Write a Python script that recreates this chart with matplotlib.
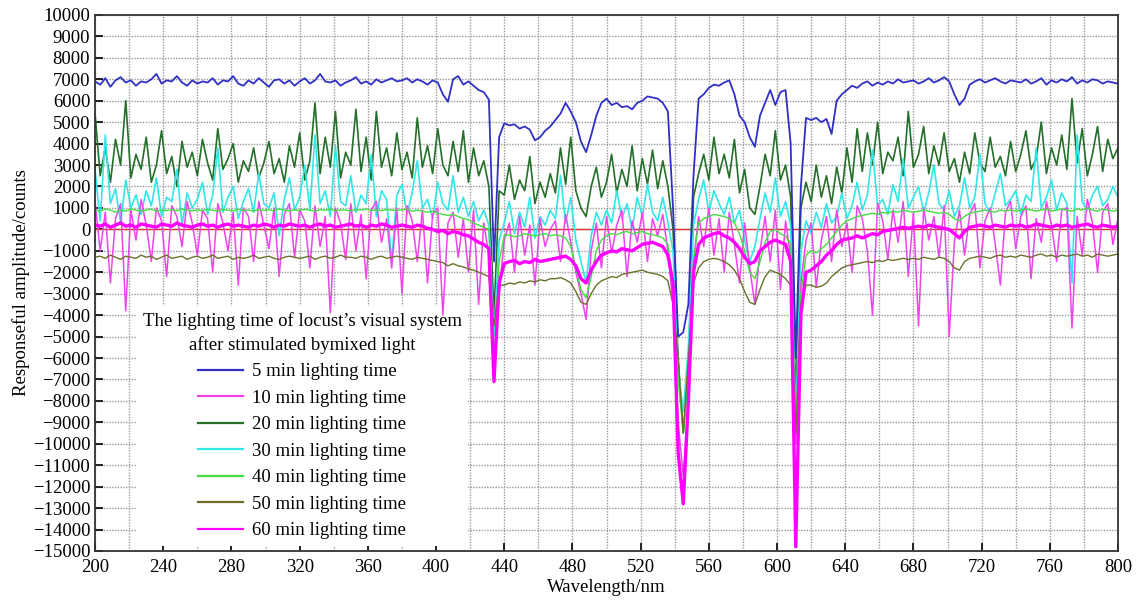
import numpy as np
import matplotlib
matplotlib.use("Agg")
import matplotlib.pyplot as plt
from matplotlib.ticker import MultipleLocator

plt.rcParams['font.family'] = ['Liberation Serif', 'DejaVu Serif']

# Wavelength sampling (nm)
wavelength = np.arange(200, 801, 3)

labels = ["5 min lighting time", "10 min lighting time", "20 min lighting time",
          "30 min lighting time", "40 min lighting time", "50 min lighting time",
          "60 min lighting time"]

min5 = [
    6900, 6750, 7050, 6650, 6950, 7100, 6850, 6950, 6700, 6900,
    6850, 7000, 7250, 6800, 6950, 6900, 7150, 6850, 6700, 6950,
    6800, 6900, 6850, 7050, 6750, 6950, 6900, 7150, 6800, 6700,
    6950, 6800, 7050, 6850, 6650, 6950, 7000, 6800, 6950, 6700,
    6900, 7050, 6800, 6950, 7250, 6900, 6850, 6950, 6700, 6850,
    6950, 7100, 6800, 6900, 6750, 7000, 6850, 6950, 7050, 6900,
    6950, 7050, 6850, 7000, 6900, 6750, 6950, 6850, 6300, 5950,
    7000, 7150, 6750, 6900, 6700, 6500, 6400, 6050, -1500, 4300,
    4950, 4850, 4900, 4700, 4800, 4650, 4150, 4300, 4600, 4800,
    5100, 5400, 5900, 5500, 5000, 4100, 3600, 4400, 5300, 5900,
    6100, 5800, 5900, 5700, 5750, 5600, 5900, 6000, 6200, 6150,
    6100, 5900, 5500, 1000, -5000, -4800, -3500, 2500, 6100, 6300,
    6600, 6750, 6700, 6850, 6950, 6300, 5300, 5000, 4300, 3850,
    5300, 5900, 6500, 5800, 6400, 6500, 4000, -6000, 2000, 5200,
    5100, 5200, 5000, 5150, 4450, 6000, 6300, 6500, 6700, 6600,
    6800, 6900, 6700, 6850, 6750, 6900, 6800, 7000, 6850, 6900,
    6950, 6800, 6900, 7050, 6850, 6950, 7100, 6900, 6300, 5800,
    6100, 6750, 6900, 7000, 6850, 6950, 7050, 6900, 6800, 6950,
    6900, 6850, 7000, 6800, 6900, 7050, 6750, 6950, 6850, 7000,
    6900, 7100, 6800, 6950, 6850, 7000, 6950, 6800, 6900, 6850,
    6800,
]

min10 = [
    1300, -1000, 800, -2500, 500, 1200, -3800, 900, -500, 1400,
    200, -1500, 1000, 400, -2200, 1100, 600, -800, 1300, 300,
    -1200, 900, 500, -2000, 1200, 300, -1000, 800, -2600, 1000,
    600, -1500, 1300, 200, -900, 1000, -2200, 700, 1200, -1300,
    900, 400, -1800, 1100, -800, 600, -3900, 1000, 300, -1400,
    1200, -1000, 700, -2300, 900, 1300, -600, 500, -1800, 1000,
    -3000, 1100, 400, -1500, 900, -2500, 700, 1000, -4000, 300,
    800, -1300, 500, -2000, 900, -3500, 300, -1200, -7000, -3000,
    -500, 300, -2000, 600, -1200, 200, -2600, 500, -800, 0,
    400, -1500, 700, -600, -2000, -3000, -4200, -1000, 300, -1800,
    600, -1100, 200, 900, -2200, 400, -600, 800, -1500, 500,
    -300, 700, -1000, -3500, -9000, -11500, -8000, -1500, 600, -800,
    1000, -1200, 500, -2000, 800, -700, -2500, 300, -1800, -3500,
    -1000, 600, -1500, 900, -2800, 400, -1300, -10000, -2500, -500,
    300, -2700, -500, 600, -1500, 900, -800, 300, -2000, 1100,
    500, -1000, -4000, 1200, 400, -1400, 900, -600, 1300, -2200,
    800, -4500, 1000, -500, 600, -1300, 1100, -5000, -600, 900,
    -1200, 700, 1200, -1800, 400, 1000, -700, -2600, 800, 1300,
    -900, 600, 1100, -2300, 500, -600, 1300, 200, -1500, 900,
    1000, -4600, 600, -1200, 1400, 300, -2000, 800, 1200, -700,
    500,
]

min20 = [
    5400, 2500, 3800, 2200, 4200, 3000, 6000, 2400, 3500, 2800,
    4300, 2200, 3000, 4600, 2600, 3400, 2000, 4100, 2900, 3600,
    2500, 4200, 3100, 2300, 4700, 2800, 3300, 4000, 2200, 3200,
    2700, 3800, 2400, 3100, 4100, 2600, 3300, 2200, 3900, 2900,
    4500, 2300, 3200, 5900, 2600, 4300, 2900, 5500, 2400, 3600,
    3000, 5600, 2700, 4300, 2300, 5500, 2900, 3800, 2500, 4500,
    2800, 3600, 2400, 5200, 2900, 3900, 2600, 4700, 3000, 2500,
    4100, 2700, 4600, 2200, 3800, 2500, 3200, 2000, -4000, 1800,
    1600, 3000, 1400, 2300, 1800, 3400, 1200, 2200, 1500, 2600,
    1700, 3800, 2100, 4300, 1800, 1000, 600, 2000, 2900, 1500,
    2200, 3500, 1700, 2800, 2000, 3900, 1800, 3300, 2100, 3700,
    1900, 3200, 2000, 0, -6000, -9500, -6500, 1500, 2600, 3500,
    2300, 4300, 2600, 3500, 2400, 4200, 1700, 2800, 1000, 700,
    2000, 3500, 2500, 4600, 2300, 3000, 1500, -8000, 1000, 2200,
    1300, 3000, 1500, 2500, 1200, 2900, 1700, 3800, 2200, 4700,
    2700, 4500, 3000, 5000, 2600, 3600, 3200, 4300, 2500, 5500,
    2900, 3500, 4800, 2600, 3900, 3000, 4500, 2700, 3300, 2200,
    3600, 2600, 4500, 3100, 2700, 4300, 2900, 3400, 2500, 4100,
    2700, 3500, 4600, 2800, 3300, 5000, 2600, 3800, 3000, 4400,
    2800, 6100, 3100, 4700, 2500, 3500, 4800, 2700, 4200, 3300,
    3800,
]

min30 = [
    2800, 400, 4400, 1200, 1900, 300, 2300, 1000, 1600, 700,
    1800, 1100, 2400, 600, 1500, 1300, 2800, 200, 1700, 1000,
    1400, 2200, 700, 1600, 3800, 800, 1500, 2000, 500, 1300,
    1900, 800, 2600, 1200, 1000, 1700, -300, 1400, 2400, 900,
    1500, 3000, 900, 4400, 1200, 1800, 600, 3900, 1300, 1100,
    2500, 800, 1600, 1200, 3500, 600, 1800, 1400, -1500, 1600,
    2100, 700, 1700, 3200, 1000, 1400, 500, 2200, 1200, 900,
    2500, 800, 1500, 600, 1300, 400, 900, 200, -5000, -500,
    300, 1300, -200, 800, 100, 1500, -400, 600, 200, 900,
    500, 2500, 300, 1500, -500, -1500, -2500, -300, 800, 200,
    900, 300, 1800, 500, 1200, 0, 1500, 600, 2100, 800,
    400, 1500, 300, -1000, -6500, -8500, -5500, 200, 1400, 2300,
    800, 1800, 1200, 700, 1500, 300, 900, -500, -1500, -800,
    500, 1700, 800, 2400, 600, 1300, 200, -9000, -1000, 400,
    -200, 800, 100, 1200, 300, 600, 1700, 500, 1100, 2200,
    900, 1600, 3700, 1100, 1400, 700, 2100, 1300, 3300, 1000,
    1500, 2000, 800, 1700, 3000, 1200, 900, 1800, 600, 1100,
    2400, 1000, 1500, 3500, 1200, 800, 1700, 2600, 1100, 1400,
    1800, 700, 1600, 1300, 3800, 1000, 1500, 2300, 900, 1700,
    1200, -2500, 4400, 1300, 900, 1600, 2000, 1100, 1400, 2000,
    1500,
]

min40 = [
    900, 850, 950, 900, 800, 900, 850, 950, 900, 850,
    900, 950, 850, 900, 880, 920, 870, 950, 900, 860,
    910, 870, 940, 890, 850, 920, 900, 860, 940, 880,
    900, 850, 930, 880, 910, 870, 950, 900, 860, 920,
    880, 940, 900, 850, 920, 890, 940, 870, 910, 900,
    860, 920, 900, 950, 880, 910, 870, 930, 890, 900,
    900, 950, 850, 900, 850, 800, 850, 750, 700, 650,
    700, 600, 500, 450, 300, 200, 100, 0, -6000, -1500,
    -300, -250, -350, -300, -200, -250, -300, -250, -200, -300,
    -250, -300, -400, -800, -1800, -2800, -3200, -2200, -1000, -500,
    -300, -200, -250, -150, -100, -200, -150, -100, -200, -250,
    -300, -400, -700, -2500, -7000, -9500, -7000, -1500, 300, 500,
    600, 700, 650, 600, 500, 300, -200, -1000, -2000, -2300,
    -1500, -600, -100, 0, -200, -300, -700, -9500, -3000, -1200,
    -1000, -1100, -900, -700, -400, -100, 200, 400, 500, 600,
    650, 700, 750, 700, 800, 750, 850, 800, 900, 850,
    800, 850, 900, 850, 800, 750, 800, 700, 500, 400,
    600, 750, 800, 850, 900, 850, 800, 900, 850, 900,
    850, 900, 950, 900, 850, 900, 950, 850, 900, 950,
    900, 850, 950, 900, 1000, 900, 850, 950, 900, 850,
    900,
]

min50 = [
    -1300, -1250, -1350, -1200, -1300, -1400, -1250, -1300, -1350, -1200,
    -1300, -1250, -1400, -1300, -1200, -1350, -1300, -1250, -1400, -1300,
    -1250, -1350, -1300, -1200, -1350, -1300, -1250, -1400, -1300, -1350,
    -1300, -1200, -1350, -1300, -1250, -1350, -1400, -1300, -1250, -1300,
    -1350, -1300, -1250, -1400, -1300, -1250, -1350, -1300, -1200, -1300,
    -1300, -1350, -1250, -1300, -1400, -1300, -1250, -1350, -1300, -1250,
    -1300, -1350, -1400, -1300, -1350, -1400, -1450, -1500, -1550, -1700,
    -1600, -1700, -1750, -1850, -1900, -2000, -2100, -2200, -4500, -2600,
    -2600, -2500, -2550, -2450, -2500, -2400, -2450, -2350, -2400, -2300,
    -2300, -2250, -2350, -2500, -2900, -3400, -3500, -3000, -2600, -2400,
    -2300, -2200, -2250, -2100, -2050, -2000, -1950, -1900, -2000, -2050,
    -2100, -2200, -2400, -3500, -6000, -9500, -6000, -2500, -1800, -1500,
    -1400, -1350, -1400, -1500, -1650, -1900, -2300, -2900, -3400, -3500,
    -2800, -2200, -1900, -2000, -2100, -2300, -2600, -9500, -3500, -2600,
    -2600, -2700, -2650, -2500, -2200, -2000, -1800, -1700, -1650, -1600,
    -1550, -1500, -1550, -1450, -1500, -1400, -1450, -1400, -1350, -1400,
    -1350, -1400, -1300, -1350, -1400, -1300, -1350, -1500, -1800, -1900,
    -1500, -1350, -1300, -1250, -1300, -1350, -1250, -1200, -1300, -1250,
    -1300, -1200, -1250, -1300, -1200, -1150, -1250, -1200, -1300, -1200,
    -1250, -1200, -1150, -1250, -1200, -1300, -1150, -1200, -1250, -1200,
    -1150,
]

min60 = [
    200, 150, 250, 100, 200, 300, 150, 200, 100, 250,
    200, 150, 100, 250, 200, 150, 300, 200, 150, 100,
    200, 250, 150, 200, 100, 200, 250, 150, 200, 150,
    100, 200, 150, 250, 200, 100, 200, 150, 250, 200,
    150, 200, 100, 200, 250, 150, 200, 100, 150, 200,
    250, 150, 200, 100, 200, 150, 250, 200, 100, 150,
    200, 150, 100, 200, 150, 50, 0, -100, -50, -200,
    -100, -150, -250, -300, -450, -600, -700, -900, -7100, -2500,
    -1600, -1500, -1450, -1600, -1500, -1550, -1400, -1500, -1450, -1400,
    -1350, -1300, -1250, -1400, -1700, -2300, -2500, -1900, -1500, -1200,
    -1100, -1000, -1050, -900, -950, -1000, -850, -700, -650, -600,
    -700, -800, -1200, -2500, -10400, -12800, -8000, -2000, -700, -400,
    -300, -200, -150, -300, -400, -600, -900, -1300, -1600, -1500,
    -1000, -800, -600, -500, -600, -700, -1500, -14800, -4000, -2000,
    -1900, -1700, -1500, -1200, -1000, -700, -500, -450, -400, -300,
    -400, -300, -200, -250, -100, -50, 0, 50, 100, 50,
    100, 150, 100, 200, 150, 100, 50, 0, -200, -400,
    -100, 100, 150, 200, 150, 100, 200, 150, 100, 200,
    150, 200, 100, 150, 250, 200, 150, 100, 200, 150,
    200, 100, 150, 200, 250, 150, 100, 200, 150, 100,
    150,
]

colors = {
    "5": "#3030c4", "10": "#ee44ee", "20": "#246f2a", "30": "#33e6e6",
    "40": "#44dd44", "50": "#6e6e2c", "60": "#ff00ff",
}

fig = plt.figure(figsize=(11.37, 6.11), dpi=100)
ax = fig.add_axes([0.0836, 0.0982, 0.8997, 0.8773])

ax.axhline(0, color="#dd3333", lw=1.0, zorder=1.8)
h20, = ax.plot(wavelength, min20, color=colors["20"], lw=1.2, zorder=2.0, label=labels[2])
h30, = ax.plot(wavelength, min30, color=colors["30"], lw=1.2, zorder=2.1, label=labels[3])
h10, = ax.plot(wavelength, min10, color=colors["10"], lw=1.1, zorder=2.2, label=labels[1])
h40, = ax.plot(wavelength, min40, color=colors["40"], lw=1.0, zorder=2.3, label=labels[4])
h50, = ax.plot(wavelength, min50, color=colors["50"], lw=1.0, zorder=2.4, label=labels[5])
h5, = ax.plot(wavelength, min5, color=colors["5"], lw=1.3, zorder=2.5, label=labels[0])
h60, = ax.plot(wavelength, min60, color=colors["60"], lw=2.4, zorder=2.6, label=labels[6])

ax.set_xlim(200, 800)
ax.set_ylim(-15000, 10000)
ax.xaxis.set_major_locator(MultipleLocator(40))
ax.xaxis.set_minor_locator(MultipleLocator(20))
ax.yaxis.set_major_locator(MultipleLocator(1000))
ax.set_axisbelow(True)
ax.grid(True, which="both", color="#9a9a9a", ls=(0, (1, 1)), lw=1.0)
ax.tick_params(axis="both", which="major", direction="in", length=6, width=1.2,
               labelsize=13.5, colors="black")
ax.tick_params(axis="both", which="minor", length=0)
ax.tick_params(axis="x", pad=6)
for s in ax.spines.values():
    s.set_linewidth(1.3)
    s.set_color("#333333")
    s.set_zorder(3)

ax.set_xlabel("Wavelength/nm", fontsize=13.5, labelpad=2)
ax.set_ylabel("Responseful amplitude/counts", fontsize=13.5, labelpad=2)

handles = [h5, h10, h20, h30, h40, h50, h60]
leg = ax.legend(handles=handles, labels=labels, loc="lower left",
                bbox_to_anchor=(0.031, -0.008),
                title="The lighting time of locust\u2019s visual system\nafter stimulated bymixed light",
                fontsize=13.5, title_fontsize=13.5, frameon=True, fancybox=False,
                framealpha=1.0, facecolor="white", edgecolor="none",
                handlelength=2.4, handletextpad=0.45, labelspacing=0.5,
                borderpad=0.35, alignment="center")
leg.get_title().set_multialignment("center")
leg.get_title().set_linespacing(1.4)
for line in leg.get_lines():
    line.set_linewidth(1.6)
leg.set_zorder(1.5)

fig.savefig("out.png", dpi=100)
